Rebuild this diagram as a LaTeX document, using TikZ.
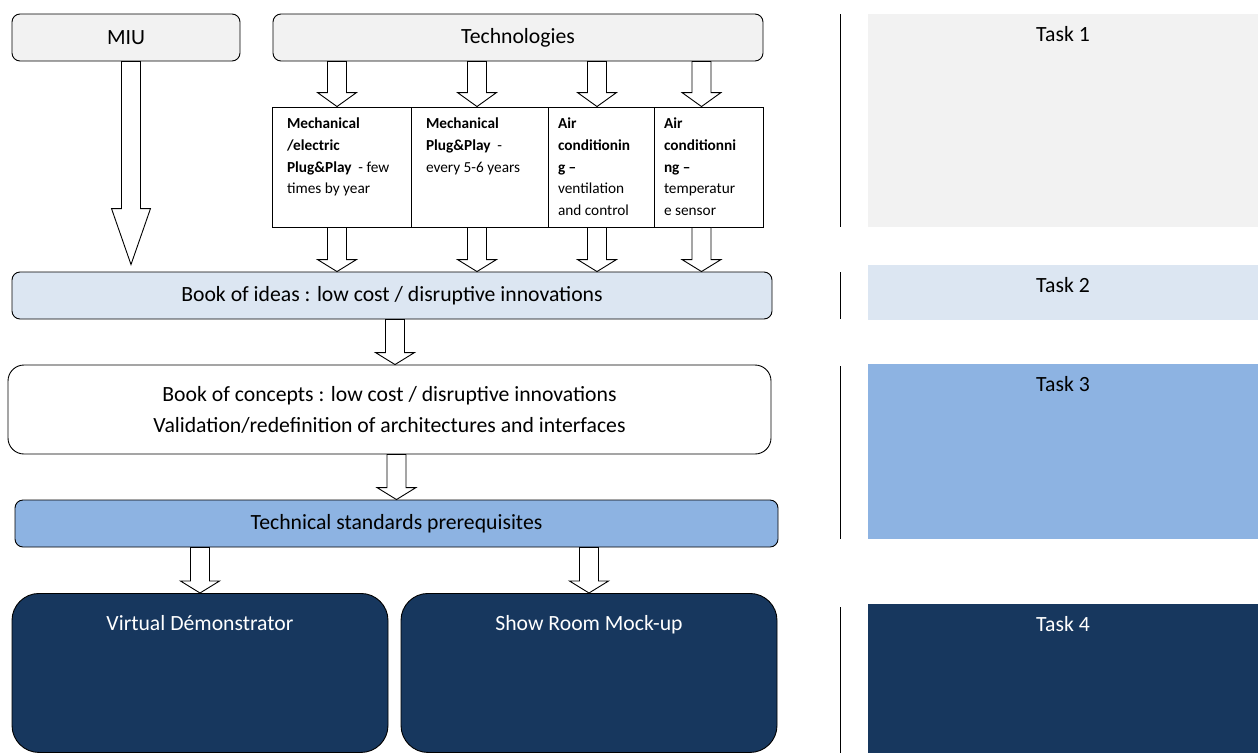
\documentclass[tikz,border=0pt]{standalone}
\usepackage{fontspec}
\setmainfont{Carlito}
\usetikzlibrary{calc}

\definecolor{taskgrey}{HTML}{F2F2F2}
\definecolor{tasklight}{HTML}{DCE6F2}
\definecolor{taskmid}{HTML}{8DB3E2}
\definecolor{tasknavy}{HTML}{17375E}

\newcommand{\mainsize}{\fontsize{21.7pt}{25pt}\selectfont}
\newcommand{\techsize}{\fontsize{15.3pt}{21.7pt}\selectfont}
\newcommand{\techtext}[2]{\parbox[t][98pt][t]{#1}{\raggedright #2}}

\tikzset{
  blk/.style={draw, fill=white,
    to path={let \p1=(\tikztostart), \p2=(\tikztotarget) in
      (\x2-9.5pt,\y1) -- (\x2-9.5pt,\y2+#1) -- (\x2-19.5pt,\y2+#1) -- (\x2,\y2)
      -- (\x2+19.5pt,\y2+#1) -- (\x2+9.5pt,\y2+#1) -- (\x2+9.5pt,\y1) -- cycle}},
  blk/.default=12pt
}

\begin{document}
\begin{tikzpicture}[x=1pt,y=-1pt,line width=0.9pt]
      \useasboundingbox (0,0) rectangle (1258,753);

      % tasks column
      \begin{scope}[every node/.style={anchor=north,minimum width=390pt,inner sep=0pt,text height=27.5pt,font=\mainsize}]
        \node[fill=taskgrey,text depth=185.5pt]          (task1) at (1063,14)  {Task 1};
        \node[fill=tasklight,text depth=27.5pt]          (task2) at (1063,265) {Task 2};
        \node[fill=taskmid,text depth=147.5pt]           (task3) at (1063,364) {Task 3};
        \node[fill=tasknavy,text=white,text depth=121.5pt] (task4) at (1063,604) {Task 4};
      \end{scope}

      \draw (840,14)  -- (840,227);
      \draw (840,272) -- (840,319);
      \draw (840,366) -- (840,539);
      \draw (840,607) -- (840,753);

      % main boxes
      \begin{scope}[every node/.style={draw,font=\mainsize,inner sep=0pt}]
        \node[rounded corners=8pt,fill=taskgrey,minimum width=228pt,minimum height=47pt]  (miu)  at (126,37.5) {MIU};
        \node[rounded corners=8pt,fill=taskgrey,minimum width=490pt,minimum height=47pt]  (tech) at (518,37.5) {Technologies};
        \node[rounded corners=8pt,fill=tasklight,minimum width=760pt,minimum height=47pt] (ideas) at (392,295.5)
          {Book of ideas : low cost / disruptive innovations};
        \node[rounded corners=16pt,fill=white,minimum width=763pt,minimum height=89pt,align=center,
              font=\fontsize{21.7pt}{31pt}\selectfont] (concepts) at (389.5,409.5)
          {Book of concepts : low cost / disruptive innovations\\Validation/redefinition of architectures and interfaces};
        \node[rounded corners=8pt,fill=taskmid,minimum width=763pt,minimum height=47pt] (standards) at (396.5,523.5)
          {Technical standards prerequisites};
        \node[rounded corners=27pt,fill=tasknavy,text=white,anchor=north,minimum width=376pt,
              text height=37pt,text depth=122pt] (virtual) at (200,593) {Virtual Démonstrator};
        \node[rounded corners=27pt,fill=tasknavy,text=white,anchor=north,minimum width=376pt,
              text height=37pt,text depth=122pt] (showroom) at (589,593) {Show Room Mock-up};
      \end{scope}

      % technology boxes
      \begin{scope}[every node/.style={draw,fill=white,font=\techsize,inner ysep=11pt}]
        \node[inner xsep=15pt] (mech1) at (341.5,167)
          {\techtext{109pt}{\textbf{Mechanical}\\\textbf{/electric}\\\textbf{Plug\&Play}~ - few\\times by year}};
        \node[inner xsep=15pt] (mech2) at (479.5,167)
          {\techtext{107pt}{\textbf{Mechanical}\\\textbf{Plug\&Play}~ -\\every 5-6 years}};
        \node[inner xsep=10pt] (air1) at (601,167)
          {\techtext{86pt}{\textbf{Air}\\\textbf{conditionin}\\\textbf{g --}\\ventilation\\and control}};
        \node[inner xsep=10pt] (air2) at (708.5,167)
          {\techtext{89pt}{\textbf{Air}\\\textbf{conditionni}\\\textbf{ng --}\\temperatur\\e sensor}};
      \end{scope}

      % block arrows
      \path (miu.south)  edge[blk=56pt] ($(ideas.north -| miu.south)+(5pt,7pt)$);
      \path (tech.south) edge[blk=14pt] ([xshift=-4.5pt]mech1.north);
      \path (tech.south) edge[blk=14pt] ([xshift=-2.5pt]mech2.north);
      \path (tech.south) edge[blk=14pt] ([xshift=-4pt]air1.north);
      \path (tech.south) edge[blk=14pt] ([xshift=-7pt]air2.north);
      \path (mech1.south) edge[blk] ($(mech1.south |- ideas.north)+(-4.5pt,0)$);
      \path (mech2.south) edge[blk] ($(mech2.south |- ideas.north)+(-2.5pt,0)$);
      \path (air1.south)  edge[blk] ($(air1.south |- ideas.north)+(-4pt,0)$);
      \path (air2.south)  edge[blk] ($(air2.south |- ideas.north)+(-7pt,0)$);
      \path (ideas.south) edge[blk] ([xshift=5.5pt]concepts.north);
      \path (concepts.south) edge[blk] (standards.north);
      \path (standards.south) edge[blk] (virtual.north);
      \path (standards.south) edge[blk] (showroom.north);

    \end{tikzpicture}
\end{document}
